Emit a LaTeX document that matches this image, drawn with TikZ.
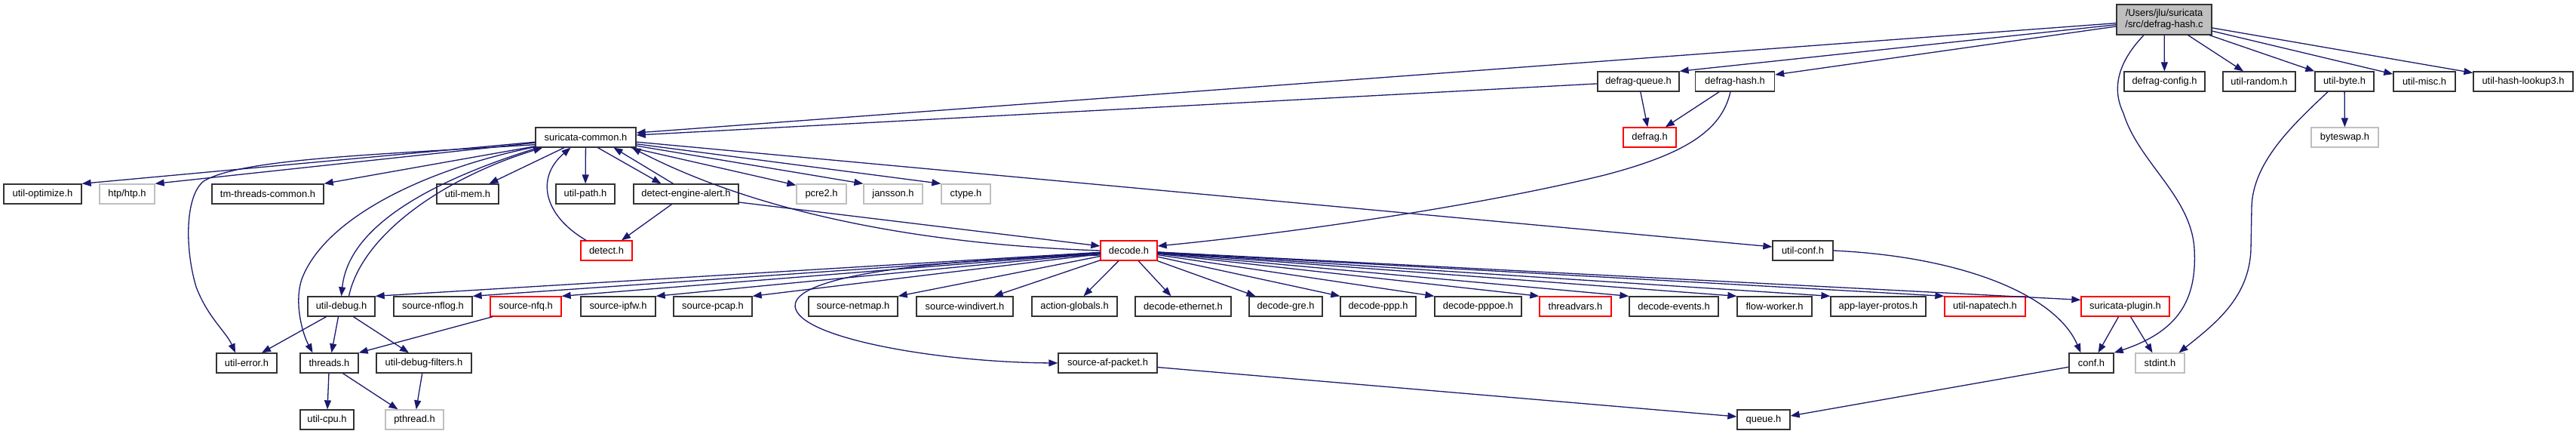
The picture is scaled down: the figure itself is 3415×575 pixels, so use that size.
\documentclass[tikz,border=0pt]{standalone}
\usepackage{fontspec}
\setmainfont{Liberation Sans}
\usetikzlibrary{arrows.meta}
\definecolor{edgec}{HTML}{191970}
\definecolor{grayb}{HTML}{BFBFBF}
\definecolor{nodeb}{HTML}{333333}
\begin{document}
\begin{tikzpicture}[x=1pt,y=-1pt,
  nb/.style={draw=nodeb, line width=1.3pt, fill=white, minimum height=26pt, inner sep=0pt, font=\fontsize{12.9}{15}\selectfont},
  rb/.style={nb, draw=red},
  gb/.style={nb, draw=grayb},
  e/.style={draw=edgec, line width=1.3pt, -{Triangle[length=12pt,width=9pt]}},
]
\fill[white] (0,0) rectangle (3415,575);
\useasboundingbox (0,0) rectangle (3415,575);

% row 0
\node[nb, fill=grayb, minimum width=126pt, minimum height=40pt, align=center] (root) at (2869,26) {/Users/jlu/suricata\\/src/defrag-hash.c};
% row 1
\node[nb, minimum width=108pt] (dq) at (2172,108) {defrag-queue.h};
\node[nb, minimum width=105pt] (dh) at (2300,108) {defrag-hash.h};
\node[nb, minimum width=107pt] (dc) at (2869.5,108) {defrag-config.h};
\node[nb, minimum width=96pt] (ur) at (2995,108) {util-random.h};
\node[nb, minimum width=78pt] (ub) at (3108,108) {util-byte.h};
\node[nb, minimum width=82pt] (um) at (3214,108) {util-misc.h};
\node[nb, minimum width=132pt] (uh) at (3345,108) {util-hash-lookup3.h};
% row 2
\node[nb, minimum width=133pt] (sc) at (776.5,182) {suricata-common.h};
\node[rb, minimum width=70pt] (df) at (2187,182) {defrag.h};
\node[gb, minimum width=89pt] (bs) at (3108.5,182) {byteswap.h};
% row 3
\node[nb, minimum width=103pt] (uo) at (56.5,257) {util-optimize.h};
\node[gb, minimum width=73pt] (htp) at (168.5,257) {htp/htp.h};
\node[nb, minimum width=148pt] (tm) at (355,257) {tm-threads-common.h};
\node[nb, minimum width=82pt] (umem) at (620,257) {util-mem.h};
\node[nb, minimum width=78pt] (upath) at (776,257) {util-path.h};
\node[nb, minimum width=139pt] (dea) at (909.5,257) {detect-engine-alert.h};
\node[gb, minimum width=66pt] (pcre) at (1089,257) {pcre2.h};
\node[gb, minimum width=78pt] (jan) at (1184,257) {jansson.h};
\node[gb, minimum width=65pt] (ct) at (1280.5,257) {ctype.h};
% row 4
\node[rb, minimum width=68pt] (det) at (804,332) {detect.h};
\node[rb, minimum width=75pt] (dec) at (1496.5,332) {decode.h};
\node[nb, minimum width=80pt] (uconf) at (2390,332) {util-conf.h};
% row 5
\node[nb, minimum width=89pt] (udbg) at (452.5,406) {util-debug.h};
\node[nb, minimum width=104pt] (snflog) at (574,406) {source-nflog.h};
\node[rb, minimum width=94pt] (snfq) at (697,406) {source-nfq.h};
\node[nb, minimum width=99pt] (sipfw) at (819.5,406) {source-ipfw.h};
\node[nb, minimum width=104pt] (spcap) at (945,406) {source-pcap.h};
\node[nb, minimum width=118pt] (snetmap) at (1131,406) {source-netmap.h};
\node[nb, minimum width=128pt] (swin) at (1279,406) {source-windivert.h};
\node[nb, minimum width=113pt] (ag) at (1424.5,406) {action-globals.h};
\node[nb, minimum width=127pt] (deth) at (1568.5,406) {decode-ethernet.h};
\node[nb, minimum width=97pt] (dgre) at (1704.5,406) {decode-gre.h};
\node[nb, minimum width=100pt] (dppp) at (1827,406) {decode-ppp.h};
\node[nb, minimum width=115pt] (dpppoe) at (1959.5,406) {decode-pppoe.h};
\node[rb, minimum width=95pt] (tv) at (2088.5,406) {threadvars.h};
\node[nb, minimum width=118pt] (dev) at (2219,406) {decode-events.h};
\node[nb, minimum width=99pt] (fw) at (2352.5,406) {flow-worker.h};
\node[nb, minimum width=126pt] (alp) at (2490,406) {app-layer-protos.h};
\node[rb, minimum width=107pt] (unapa) at (2631.5,406) {util-napatech.h};
\node[rb, minimum width=117pt] (splug) at (2817.5,406) {suricata-plugin.h};
% row 6
\node[nb, minimum width=80pt] (uerr) at (327,481) {util-error.h};
\node[nb, minimum width=77pt] (thr) at (436.5,481) {threads.h};
\node[nb, minimum width=126pt] (udf) at (562,481) {util-debug-filters.h};
\node[nb, minimum width=131pt] (safp) at (1468.5,481) {source-af-packet.h};
\node[nb, minimum width=59pt] (conf) at (2772.5,481) {conf.h};
\node[gb, minimum width=65pt] (stdint) at (2863.5,481) {stdint.h};
% row 7
\node[nb, minimum width=71pt] (ucpu) at (433.5,556) {util-cpu.h};
\node[gb, minimum width=77pt] (pth) at (549.5,556) {pthread.h};
\node[nb, minimum width=70pt] (queue) at (2338,556) {queue.h};

% edges from root
\draw[e] (root) -- (dq.north east);
\draw[e] (root) -- ([yshift=9pt]dh.east);
\draw[e] (root) -- ([yshift=6pt]sc.east);
\draw[e] (root) -- (dc);
\draw[e] (root) -- (ur);
\draw[e] (root) -- (ub);
\draw[e] (root) -- (um);
\draw[e] (root) -- (uh);
\draw[e] ([xshift=-27pt]root.south) .. controls (2810,80) and (2798,115) .. (2815,150)
  .. controls (2835,215) and (2905,260) .. (2909,330)
  .. controls (2913,400) and (2885,440) .. (conf.north east);
% util-byte
\draw[e] (ub) -- (bs);
\draw[e] ([xshift=-22pt]ub.south) .. controls (3040,165) and (2986,215) .. (2985,275) -- (2984,330)
  .. controls (2982,395) and (2935,430) .. ([xshift=25pt]stdint.north);
% defrag-queue / defrag-hash
\draw[e] (dq) -- ([yshift=3pt]sc.east);
\draw[e] (dq) -- (df);
\draw[e] (dh) -- (df);
\draw[e] ([xshift=-6pt]dh.south) .. controls (2282,175) and (2230,205) .. (2127,232)
  .. controls (1950,275) and (1700,310) .. ([yshift=6pt]dec.east);
% suricata-common outgoing
\draw[e] (sc) -- (uo.north east);
\draw[e] (sc) -- (htp.north east);
\draw[e] (sc) -- (tm.north east);
\draw[e] (sc) -- (umem);
\draw[e] (sc) -- (upath);
\draw[e] ([xshift=16pt]sc.south) -- ([xshift=-33pt]dea.north);
\draw[e] (sc) -- ([yshift=-2pt]pcre.north west);
\draw[e] (sc) -- (jan.north west);
\draw[e] (sc) -- (ct.north west);
\draw[e] (sc) -- ([yshift=5pt]uconf.west);
\draw[e] ([yshift=4pt]sc.south west) .. controls (500,205) and (320,210) .. (270,240)
  .. controls (245,260) and (245,330) .. (260,380)
  .. controls (275,420) and (300,440) .. ([xshift=-15pt]uerr.north);
\draw[e] ([yshift=1pt]sc.south west) .. controls (560,225) and (430,290) .. (400,370)
  .. controls (390,400) and (400,440) .. ([xshift=-22pt]thr.north);
\draw[e] ([xshift=4pt]sc.south west) .. controls (570,240) and (462,300) .. (udbg.north);
% into suricata-common
\draw[e] ([xshift=10pt]udbg.north) .. controls (480,310) and (590,235) .. ([xshift=10pt]sc.south west);
\draw[e] ([xshift=-17pt]dea.north) -- ([xshift=37pt]sc.south);
\draw[e] ([xshift=-27pt]det.north) .. controls (720,285) and (710,235) .. ([xshift=-20pt]sc.south);
\draw[e] (dec.west) .. controls (1250,325) and (1020,290) .. ([xshift=-6pt]sc.south east);
% detect-engine-alert
\draw[e] ([xshift=-19pt]dea.south) -- ([xshift=20pt]det.north);
\draw[e] ([yshift=-11pt]dea.east) -- ([yshift=6pt]dec.west);
% decode.h fan
\draw[e] (dec) -- (udbg.north east);
\draw[e] (dec) -- (snflog.north east);
\draw[e] (dec) -- (snfq.north east);
\draw[e] (dec) -- (sipfw.north east);
\draw[e] (dec) -- (spcap.north east);
\draw[e] (dec) -- (snetmap.north east);
\draw[e] (dec) -- ([xshift=-26pt]swin.north east);
\draw[e] (dec) -- ([xshift=12pt]ag.north);
\draw[e] (dec) -- ([xshift=-16pt]deth.north);
\draw[e] (dec) -- ([xshift=-40pt]dgre.north);
\draw[e] (dec) -- (dppp.north west);
\draw[e] (dec) -- (dpppoe.north west);
\draw[e] (dec) -- (tv.north west);
\draw[e] (dec) -- (dev.north west);
\draw[e] (dec) -- (fw.north west);
\draw[e] (dec) -- (alp.north west);
\draw[e] (dec) -- (unapa.north west);
\draw[e] (dec) -- ([yshift=-5pt]splug.north west);
\draw[e] ([yshift=-6pt]dec.west) .. controls (1200,345) and (1040,370) .. (1055,410)
  .. controls (1070,450) and (1250,480) .. (safp.west);
% lower part
\draw[e] (safp) -- ([yshift=4pt]queue.west);
\draw[e] (conf) -- ([yshift=5pt]queue.east);
\draw[e] ([xshift=-9pt]splug.south) -- ([xshift=9pt]conf.north);
\draw[e] ([xshift=7pt]splug.south) -- ([xshift=-10pt]stdint.north);
\draw[e] (uconf.east) .. controls (2600,340) and (2725,390) .. ([xshift=-14pt]conf.north);
\draw[e] ([xshift=-44pt]snfq.south) -- (thr.north east);
\draw[e] ([xshift=-20pt]udbg.south) -- ([xshift=20pt]uerr.north);
\draw[e] ([xshift=-4pt]udbg.south) -- ([xshift=3pt]thr.north);
\draw[e] ([xshift=16pt]udbg.south) -- ([xshift=-20pt]udf.north);
\draw[e] (thr) -- (ucpu);
\draw[e] ([xshift=18pt]thr.south) -- ([xshift=-22pt]pth.north);
\draw[e] (udf) -- (pth);
\end{tikzpicture}
\end{document}
